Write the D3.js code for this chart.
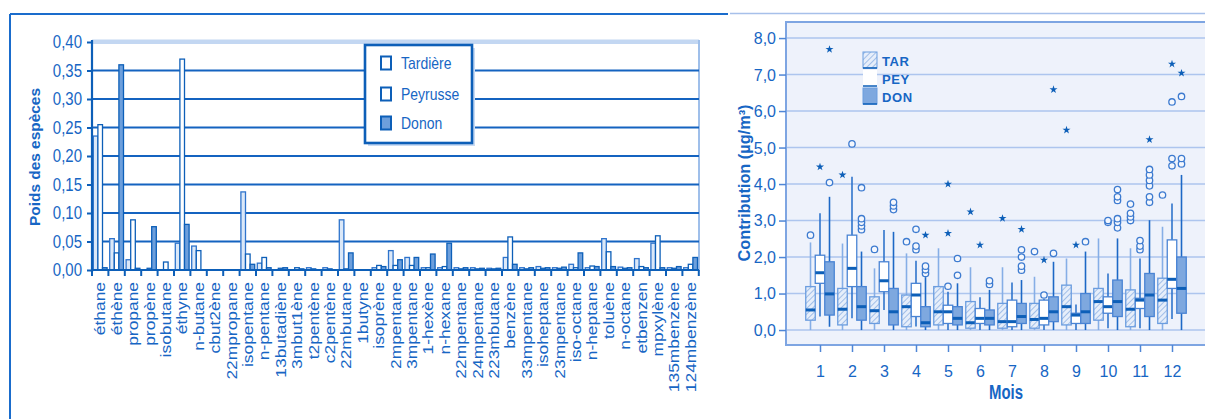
<!DOCTYPE html>
<html>
<head>
<meta charset="utf-8">
<script src="https://cdn.jsdelivr.net/npm/d3@7"></script>
<style>
  html, body { margin: 0; padding: 0; background: #ffffff; }
  svg { display: block; font-family: "Liberation Sans", Arial, sans-serif; }
</style>
</head>
<body>
<svg id="chart" width="1205" height="419"></svg>
<script>
// ---- Left panel: weight of each species per site ----
const species = ["éthane","éthène","propane","propène","isobutane","éthyne","n-butane","cbut2ène",
  "22mpropane","isopentane","n-pentane","13butadiène","3mbut1ène","t2pentène","c2pentène","22mbutane",
  "1butyne","isoprène","2mpentane","3mpentane","1-hexène","n-hexane","22mpentane","24mpentane",
  "223mbutane","benzène","33mpentane","isoheptane","23mpentane","iso-octane","n-heptane","toluène",
  "n-octane","etbenzen","mpxylène","135mbenzène","124mbenzène"];
const tardiere = [0.235,0.055,0.018,0.000,0.000,0.047,0.042,0,0,0.137,0.012,0.000,0.000,0.004,0.004,0.088,
  0,0.004,0.034,0.022,0.004,0.004,0.004,0.004,0.003,0.022,0.004,0.006,0.004,0.010,0.004,0.055,
  0.005,0.020,0.047,0.004,0.004];
const peyrusse = [0.255,0.030,0.088,0.003,0.014,0.370,0.034,0,0,0.028,0.022,0.003,0.004,0.002,0.002,0.002,
  0,0.008,0.008,0.008,0.004,0.006,0.002,0.002,0.002,0.058,0.002,0.003,0.003,0.004,0.007,0.032,
  0.003,0.006,0.060,0.003,0.010];
const donon = [0.004,0.360,0.003,0.076,0.000,0.080,0.000,0,0,0.010,0.004,0.004,0.002,0.000,0.000,0.030,
  0,0.006,0.018,0.022,0.028,0.047,0.004,0.003,0.003,0.010,0.004,0.004,0.005,0.030,0.006,0.006,
  0.004,0.004,0.004,0.006,0.022];
const siteNames = ["Tardière","Peyrusse","Donon"];
const weightTicks = [0,0.05,0.10,0.15,0.20,0.25,0.30,0.35,0.40];

// ---- Right panel: monthly contribution box plots (min, q1, median, q3, max) ----
const months = [1,2,3,4,5,6,7,8,9,10,11,12];
const tarStats = [[0,0.27,0.55,1.19,2.40],[0,0.14,0.57,1.14,2.37],[0,0.18,0.53,0.91,1.69],[0,0.09,0.64,0.96,2.10],
  [0,0.14,0.50,1.19,2.24],[0,0.05,0.20,0.78,1.72],[0,0.05,0.23,0.73,1.72],[0,0.05,0.29,0.73,1.46],
  [0,0.14,0.64,1.23,1.96],[0,0.27,0.78,1.14,2.51],[0,0.09,0.57,1.10,2.24],[0,0.18,0.82,1.42,2.83]];
const peyStats = [[0.37,1.28,1.57,2.05,3.20],[0.32,1.19,1.69,2.60,4.20],[0.55,1.05,1.35,1.87,2.74],[0.10,0.37,0.96,1.28,1.90],
  [0,0.18,0.50,0.68,1.05],[0,0.18,0.32,0.59,0.90],[0,0.09,0.23,0.82,1.30],[0,0.14,0.32,0.82,0.85],
  [0,0.18,0.41,0.46,0.70],[0.05,0.46,0.64,0.91,1.55],[0.05,0.59,0.82,0.87,1.96],[0.30,1.14,1.39,2.47,3.47]];
const donStats = [[0.09,0.41,0.99,1.87,3.65],[0,0.27,0.64,1.19,2.15],[0,0.14,0.50,1.14,2.69],[0,0.09,0.20,0.64,1.45],
  [0,0.14,0.32,0.64,1.28],[0,0.14,0.32,0.55,1.10],[0,0.18,0.37,0.73,1.37],[0,0.23,0.50,0.91,1.87],
  [0,0.18,0.50,1.00,2.15],[0,0.37,0.78,1.37,2.51],[0,0.37,0.96,1.55,3.01],[0,0.46,1.14,2.00,4.25]];
// outliers as [month, value]
const tarCircles = [[1,2.60],[3,2.21],[4,2.42],[8,2.15],[11,3.00],[11,3.10],[11,3.20],[11,3.45],[12,3.70]];
const tarStars = [[2,4.25],[6,3.24],[7,3.06],[9,5.48]];
const peyCircles = [[2,5.10],[4,2.20],[4,2.30],[4,2.76],[5,1.20],[8,0.96],[10,2.95],[10,3.00],
  [11,2.20],[11,2.30],[11,2.45],[12,4.50],[12,4.70],[12,6.25]];
const peyStars = [[1,4.47],[5,2.65],[5,4.00],[6,2.33],[8,1.92],[9,2.33],[12,7.29]];
const donCircles = [[1,4.04],[2,2.75],[2,2.85],[2,2.95],[2,3.05],[2,3.90],[3,3.30],[3,3.40],[3,3.50],
  [4,1.55],[4,1.65],[4,1.75],[5,1.50],[5,1.96],[6,1.25],[6,1.35],[7,1.64],[7,1.75],[7,2.00],[7,2.20],
  [8,2.10],[9,2.42],[10,2.80],[10,2.95],[10,3.05],[10,3.55],[10,3.65],[10,3.85],
  [11,3.50],[11,3.65],[11,3.95],[11,4.10],[11,4.25],[11,4.40],[12,4.55],[12,4.70],[12,6.40]];
const donStars = [[1,7.69],[4,2.60],[7,2.76],[8,6.59],[11,5.22],[12,7.04]];
const boxKeys = ["TAR","PEY","DON"];
const contributionTicks = [0,1,2,3,4,5,6,7,8];

// ---- styling ----
const DARK = "#0d5fb8";
const TEXT = "#1766c4";
const LIGHT = "#c3d7f2";

const svg = d3.select("#chart");
const defs = svg.append("defs");
const hatch = defs.append("pattern").attr("id","hatch").attr("patternUnits","userSpaceOnUse")
  .attr("width",4).attr("height",4).attr("patternTransform","rotate(45)");
hatch.append("rect").attr("width",4).attr("height",4).attr("fill","#e6eefa");
hatch.append("line").attr("x1",0).attr("y1",0).attr("x2",0).attr("y2",4)
  .attr("stroke","#8fb2e4").attr("stroke-width",1.6);

// panel frames
svg.append("line").attr("x1",10).attr("y1",14).attr("x2",728).attr("y2",14)
  .attr("stroke","#1a6ccc").attr("stroke-width",2);
svg.append("line").attr("x1",10).attr("y1",14).attr("x2",10).attr("y2",425)
  .attr("stroke","#1a6ccc").attr("stroke-width",2);
svg.append("line").attr("x1",730).attr("y1",13.5).attr("x2",1205).attr("y2",13.5)
  .attr("stroke","#a7c0ea").attr("stroke-width",1.5);

// ================= Left panel =================
const xL = d3.scaleBand().domain(species).range([92, 698.8]);
const xSite = d3.scaleBand().domain([0,1,2]).range([1.3, xL.bandwidth() - 1.3]);
const yL = d3.scaleLinear().domain([0, 0.4]).range([270, 42]);

const left = svg.append("g");
// top band and right border of plot area
left.append("rect").attr("x",92).attr("y",yL(0.4)-2.5).attr("width",607).attr("height",4.5).attr("fill",LIGHT);
left.append("line").attr("x1",699).attr("x2",699).attr("y1",yL(0.4)-2).attr("y2",yL(0)+1)
  .attr("stroke","#9fbfea").attr("stroke-width",2);

// gridlines
left.append("g").selectAll("line").data(weightTicks.filter(d => d > 0 && d < 0.4)).join("line")
  .attr("x1",92).attr("x2",699).attr("y1",d => yL(d)).attr("y2",d => yL(d))
  .attr("stroke","#1463c0").attr("stroke-width",2);

// legend box (behind bars, in front of grid)
const lg = left.append("g");
lg.append("rect").attr("x",368).attr("y",48).attr("width",107).attr("height",98).attr("fill","#c9dbf3");
lg.append("rect").attr("x",365).attr("y",45).attr("width",107).attr("height",98)
  .attr("fill","#ffffff").attr("stroke",DARK).attr("stroke-width",2.6);
const siteFill = ["#dbe8f8", "#ffffff", "#6d9fdc"];
const siteStroke = ["#2f74cc", DARK, DARK];
siteNames.forEach((name, i) => {
  const cy = [63, 94, 123][i];
  lg.append("rect").attr("x",381).attr("y",cy-6.5).attr("width",10).attr("height",13)
    .attr("fill", i === 2 ? "#6d9fdc" : "#ffffff").attr("stroke",DARK).attr("stroke-width",2);
  lg.append("text").attr("transform",`translate(401,${cy}) scale(1,1.2)`)
    .attr("dy","0.36em").attr("font-size",14).attr("fill",TEXT).text(name);
});

// bars
const seriesL = [tardiere, peyrusse, donon];
seriesL.forEach((vals, s) => {
  left.append("g").selectAll("rect").data(species.map((c, i) => ({c, v: vals[i]})).filter(d => d.v > 0))
    .join("rect")
    .attr("x", d => xL(d.c) + xSite(s))
    .attr("width", xSite.bandwidth())
    .attr("y", d => yL(d.v))
    .attr("height", d => yL(0) - yL(d.v))
    .attr("fill", siteFill[s])
    .attr("stroke", siteStroke[s])
    .attr("stroke-width", 1.3);
});

// y axis
const yAxisL = left.append("g").attr("transform","translate(92,0)")
  .call(d3.axisLeft(yL).tickValues(weightTicks).tickSize(5).tickPadding(5)
    .tickFormat(d => d3.format(".2f")(d).replace(".", ",")));
yAxisL.select(".domain").attr("stroke",DARK).attr("stroke-width",2.2).attr("d","M0,40V272");
yAxisL.selectAll(".tick line").attr("stroke",DARK).attr("stroke-width",2);
yAxisL.selectAll("text").attr("font-size",15).attr("fill",TEXT)
  .attr("transform","scale(1,1.2)").attr("dy","0.33em");

// x axis: baseline, boundary ticks and rotated labels
left.append("line").attr("x1",91).attr("x2",699).attr("y1",yL(0)).attr("y2",yL(0))
  .attr("stroke",DARK).attr("stroke-width",2.2);
left.append("g").selectAll("line").data(species.concat(["end"])).join("line")
  .attr("x1",(d,i) => 92 + i*xL.bandwidth()).attr("x2",(d,i) => 92 + i*xL.bandwidth())
  .attr("y1",yL(0)).attr("y2",yL(0)+6).attr("stroke",DARK).attr("stroke-width",2);
const xAxisL = left.append("g").attr("transform",`translate(0,${yL(0)})`)
  .call(d3.axisBottom(xL).tickSize(0));
xAxisL.select(".domain").remove();
xAxisL.selectAll("text").attr("font-size",14.5).attr("fill",TEXT)
  .attr("x",0).attr("y",0).attr("dy","0.36em")
  .attr("transform","translate(0,12) rotate(-90) scale(1.2,1)")
  .style("text-anchor","end");

// y title
left.append("text").attr("transform","translate(40,157) rotate(-90)")
  .attr("text-anchor","middle").attr("font-size",15).attr("font-weight","bold").attr("fill",TEXT)
  .attr("textLength",138).attr("lengthAdjust","spacingAndGlyphs").text("Poids des espèces");

// ================= Right panel =================
const xM = d3.scalePoint().domain(months).range([820, 1172]);
const xBox = d3.scaleBand().domain(boxKeys).range([-14.25, 14.25]);
const yR = d3.scaleLinear().domain([-0.41, 8.44]).range([345, 22]);

const right = svg.append("g");
right.append("rect").attr("x",786).attr("y",yR(8.44)).attr("width",440).attr("height",yR(-0.41)-yR(8.44))
  .attr("fill","#eef2fb").attr("stroke","#7ea5e2").attr("stroke-width",2);
right.append("g").selectAll("line").data(contributionTicks).join("line")
  .attr("x1",787).attr("x2",1205).attr("y1",d => yR(d)).attr("y2",d => yR(d))
  .attr("stroke","#adc5ee").attr("stroke-width",1.6);

const yAxisR = right.append("g").attr("transform","translate(786,0)")
  .call(d3.axisLeft(yR).tickValues(contributionTicks).tickSize(7).tickPadding(3)
    .tickFormat(d => d3.format(".1f")(d).replace(".", ",")));
yAxisR.select(".domain").remove();
yAxisR.selectAll(".tick line").attr("stroke","#4f86d6").attr("stroke-width",1.5);
yAxisR.selectAll("text").attr("font-size",16).attr("fill",TEXT).attr("dy","0.34em");

const xAxisR = right.append("g").attr("transform",`translate(0,${yR(-0.41)})`)
  .call(d3.axisBottom(xM).tickSize(7).tickPadding(14));
xAxisR.select(".domain").remove();
xAxisR.selectAll(".tick line").attr("stroke","#4f86d6").attr("stroke-width",1.5);
xAxisR.selectAll("text").attr("font-size",16).attr("fill",TEXT);

// boxes
const boxSeries = [
  {key:"TAR", stats:tarStats, circles:tarCircles, stars:tarStars, fill:"url(#hatch)", stroke:"#6b9ddf", whisker:"#86aee6"},
  {key:"PEY", stats:peyStats, circles:peyCircles, stars:peyStars, fill:"#ffffff", stroke:"#4a84d4", whisker:"#2f74cc"},
  {key:"DON", stats:donStats, circles:donCircles, stars:donStars, fill:"#7ea8df", stroke:"#4a84d4", whisker:"#1d68c6"}
];
const bw = xBox.bandwidth();
boxSeries.forEach(s => {
  const g = right.append("g");
  const rows = s.stats.map((st, i) => ({m: months[i], st}));
  const cx = d => xM(d.m) + xBox(s.key) + bw/2;
  g.selectAll("line.w").data(rows).join("line").attr("class","w")
    .attr("x1",cx).attr("x2",cx).attr("y1",d => yR(d.st[0])).attr("y2",d => yR(d.st[4]))
    .attr("stroke",s.whisker).attr("stroke-width",1.6);
  g.selectAll("rect").data(rows).join("rect")
    .attr("x",d => xM(d.m) + xBox(s.key)).attr("width",bw)
    .attr("y",d => yR(d.st[3])).attr("height",d => yR(d.st[1]) - yR(d.st[3]))
    .attr("fill",s.fill).attr("stroke",s.stroke).attr("stroke-width",1.3);
  g.selectAll("line.m").data(rows).join("line").attr("class","m")
    .attr("x1",d => xM(d.m) + xBox(s.key)).attr("x2",d => xM(d.m) + xBox(s.key) + bw)
    .attr("y1",d => yR(d.st[2])).attr("y2",d => yR(d.st[2]))
    .attr("stroke",DARK).attr("stroke-width",3);
});
boxSeries.forEach(s => {
  const g = right.append("g");
  g.selectAll("circle").data(s.circles).join("circle")
    .attr("cx",d => xM(d[0]) + xBox(s.key) + bw/2).attr("cy",d => yR(d[1])).attr("r",3.2)
    .attr("fill","#f4f7fd").attr("stroke","#3d7bd0").attr("stroke-width",1.3);
  g.selectAll("path").data(s.stars).join("path")
    .attr("transform",d => `translate(${xM(d[0]) + xBox(s.key) + bw/2},${yR(d[1])})`)
    .attr("d", d3.symbol(d3.symbolStar, 20)).attr("fill",DARK);
});

// legend
const rl = right.append("g");
const swFill = ["url(#hatch)", "#ffffff", "#7ea8df"];
boxKeys.forEach((k, i) => {
  const y0 = [52, 70, 88][i];
  rl.append("rect").attr("x",863).attr("y",y0).attr("width",14).attr("height",16)
    .attr("fill",swFill[i]).attr("stroke", i === 1 ? "none" : "#6b9ddf").attr("stroke-width",1);
  rl.append("line").attr("x1",863).attr("x2",877).attr("y1",y0+16).attr("y2",y0+16)
    .attr("stroke",DARK).attr("stroke-width",1.5);
  rl.append("text").attr("x",882).attr("y",y0+13.5).attr("font-size",13).attr("font-weight","bold")
    .attr("letter-spacing",0.6).attr("fill",TEXT).text(k);
});

// titles
right.append("text").attr("transform","translate(750,183) rotate(-90)")
  .attr("text-anchor","middle").attr("font-size",16).attr("font-weight","bold").attr("fill",TEXT)
  .attr("textLength",157).attr("lengthAdjust","spacingAndGlyphs").text("Contribution (µg/m³)");
right.append("text").attr("x",1006).attr("y",399).attr("text-anchor","middle")
  .attr("font-size",20).attr("font-weight","bold").attr("fill",TEXT)
  .attr("textLength",34).attr("lengthAdjust","spacingAndGlyphs").text("Mois");
</script>
</body>
</html>
